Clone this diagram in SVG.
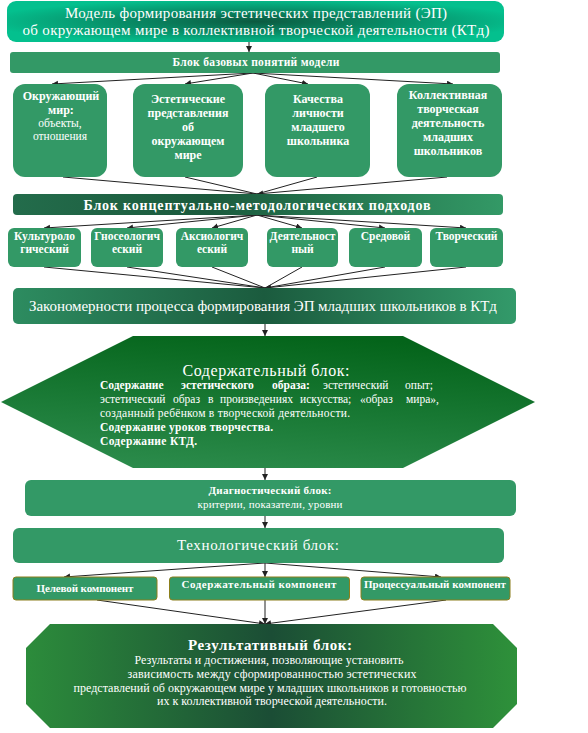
<svg xmlns="http://www.w3.org/2000/svg" width="588" height="733" viewBox="0 0 588 733">
<style>
.t{font-family:"Liberation Serif","DejaVu Serif","Times New Roman",serif;fill:#fff}
.b{font-weight:bold}
.box{fill:#339966}
.cmp{fill:#339966;stroke:#8c7f1c;stroke-width:1}
.con{stroke:#222;stroke-width:1;fill:none}
</style>
<defs>
<marker id="ah" markerUnits="userSpaceOnUse" markerWidth="7" markerHeight="7" refX="6" refY="3" orient="auto"><path d="M0,0 L6,3 L0,6 z" fill="#222"/></marker>
<radialGradient id="gTitle" cx="50%" cy="50%" r="55%"><stop offset="0" stop-color="#0c5a40"/><stop offset="1" stop-color="#04c08e"/></radialGradient>
<linearGradient id="gConc" x1="0" y1="0" x2="1" y2="0"><stop offset="0" stop-color="#236c4b"/><stop offset="0.4" stop-color="#1b5a3d"/><stop offset="1" stop-color="#339966"/></linearGradient>
<linearGradient id="gZak" x1="0" y1="0" x2="1" y2="0"><stop offset="0" stop-color="#2d8c60"/><stop offset="0.5" stop-color="#1b5b3e"/><stop offset="1" stop-color="#339a6a"/></linearGradient>
<linearGradient id="gDia" x1="0.6" y1="0" x2="0.3" y2="1"><stop offset="0" stop-color="#04641a"/><stop offset="1" stop-color="#2b8b4b"/></linearGradient>
<linearGradient id="gRes" x1="0" y1="0" x2="1" y2="0"><stop offset="0" stop-color="#2c8c3b"/><stop offset="0.5" stop-color="#1b4d35"/><stop offset="1" stop-color="#2e913a"/></linearGradient>
</defs>

<g id="connectors">
<line class="con" x1="249" y1="42" x2="249" y2="52" marker-end="url(#ah)"/>
<line class="con" x1="253" y1="73" x2="52" y2="84" marker-end="url(#ah)"/>
<line class="con" x1="253" y1="73" x2="185" y2="84" marker-end="url(#ah)"/>
<line class="con" x1="253" y1="73" x2="308" y2="84" marker-end="url(#ah)"/>
<line class="con" x1="253" y1="73" x2="453" y2="84" marker-end="url(#ah)"/>
<line class="con" x1="63" y1="177" x2="257" y2="194"/>
<line class="con" x1="185" y1="177" x2="257" y2="194"/>
<line class="con" x1="317" y1="177" x2="257" y2="194"/>
<line class="con" x1="447" y1="177" x2="257" y2="194" marker-end="url(#ah)"/>
<line class="con" x1="257" y1="215" x2="44" y2="228" marker-end="url(#ah)"/>
<line class="con" x1="257" y1="215" x2="127" y2="228" marker-end="url(#ah)"/>
<line class="con" x1="257" y1="215" x2="212" y2="228" marker-end="url(#ah)"/>
<line class="con" x1="257" y1="215" x2="302" y2="228" marker-end="url(#ah)"/>
<line class="con" x1="257" y1="215" x2="385" y2="228" marker-end="url(#ah)"/>
<line class="con" x1="257" y1="215" x2="466" y2="228" marker-end="url(#ah)"/>
<line class="con" x1="44" y1="267" x2="265" y2="288"/>
<line class="con" x1="127" y1="267" x2="265" y2="288"/>
<line class="con" x1="212" y1="267" x2="265" y2="288"/>
<line class="con" x1="302" y1="267" x2="265" y2="288"/>
<line class="con" x1="385" y1="267" x2="265" y2="288"/>
<line class="con" x1="466" y1="267" x2="265" y2="288" marker-end="url(#ah)"/>
<line class="con" x1="265" y1="324" x2="265" y2="336" marker-end="url(#ah)"/>
<line class="con" x1="265" y1="468" x2="265" y2="480" marker-end="url(#ah)"/>
<line class="con" x1="265" y1="516" x2="265" y2="528" marker-end="url(#ah)"/>
<line class="con" x1="265" y1="563" x2="64" y2="577" marker-end="url(#ah)"/>
<line class="con" x1="265" y1="563" x2="265" y2="577" marker-end="url(#ah)"/>
<line class="con" x1="265" y1="563" x2="441" y2="577" marker-end="url(#ah)"/>
<line class="con" x1="97" y1="600" x2="265" y2="624" marker-end="url(#ah)"/>
<line class="con" x1="265" y1="600" x2="265" y2="624" marker-end="url(#ah)"/>
<line class="con" x1="446" y1="600" x2="265" y2="624" marker-end="url(#ah)"/>
</g>

<g id="title">
<rect x="7" y="1" width="497" height="41" rx="9" fill="url(#gTitle)"/>
<text class="t" x="256" y="18" font-size="15" text-anchor="middle" textLength="382">Модель формирования эстетических представлений (ЭП)</text>
<text class="t" x="256" y="35" font-size="15" text-anchor="middle" textLength="467">об окружающем мире в коллективной творческой деятельности (КТд)</text>
</g>

<g id="basic-block">
<rect class="box" x="10" y="52" width="490" height="21" rx="3"/>
<text class="t b" x="256" y="66" font-size="11.5" text-anchor="middle" textLength="167">Блок базовых понятий модели</text>
</g>

<g id="basic-1">
<rect class="box" x="13" y="84" width="94" height="93" rx="12"/>
<text class="t b" font-size="12" text-anchor="middle"><tspan x="61" y="100">Окружающий</tspan><tspan x="61" y="114">мир:</tspan></text>
<text class="t" font-size="11.5" text-anchor="middle"><tspan x="60" y="127">объекты,</tspan><tspan x="60" y="140">отношения</tspan></text>
</g>
<g id="basic-2">
<rect class="box" x="133" y="84" width="110" height="93" rx="12"/>
<text class="t b" font-size="12" text-anchor="middle"><tspan x="188" y="103">Эстетические</tspan><tspan x="188" y="117">представления</tspan><tspan x="188" y="131">об</tspan><tspan x="188" y="145">окружающем</tspan><tspan x="188" y="159">мире</tspan></text>
</g>
<g id="basic-3">
<rect class="box" x="265" y="84" width="105" height="93" rx="12"/>
<text class="t b" font-size="12" text-anchor="middle"><tspan x="318" y="103">Качества</tspan><tspan x="318" y="117">личности</tspan><tspan x="318" y="131">младшего</tspan><tspan x="318" y="145">школьника</tspan></text>
</g>
<g id="basic-4">
<rect class="box" x="397" y="84" width="105" height="93" rx="12"/>
<text class="t b" font-size="12" text-anchor="middle"><tspan x="448" y="99">Коллективная</tspan><tspan x="448" y="113">творческая</tspan><tspan x="448" y="127">деятельность</tspan><tspan x="448" y="141">младших</tspan><tspan x="448" y="155">школьников</tspan></text>
</g>

<g id="concept-block">
<rect x="13" y="194" width="490" height="21" rx="4" fill="url(#gConc)"/>
<text class="t b" x="257" y="210" font-size="14" text-anchor="middle" textLength="347">Блок концептуально-методологических подходов</text>
</g>

<g id="appr-1"><rect class="box" x="8" y="228" width="73" height="39" rx="6"/>
<text class="t b" font-size="11.5" text-anchor="middle"><tspan x="44.5" y="240">Культуроло</tspan><tspan x="44.5" y="253">гический</tspan></text></g>
<g id="appr-2"><rect class="box" x="91" y="228" width="72" height="39" rx="6"/>
<text class="t b" font-size="11.5" text-anchor="middle"><tspan x="127" y="240">Гносеологич</tspan><tspan x="127" y="253">еский</tspan></text></g>
<g id="appr-3"><rect class="box" x="176" y="228" width="72" height="39" rx="6"/>
<text class="t b" font-size="11.5" text-anchor="middle"><tspan x="212" y="240">Аксиологич</tspan><tspan x="212" y="253">еский</tspan></text></g>
<g id="appr-4"><rect class="box" x="267" y="228" width="71" height="39" rx="6"/>
<text class="t b" font-size="11.5" text-anchor="middle"><tspan x="302.5" y="240">Деятельност</tspan><tspan x="302.5" y="253">ный</tspan></text></g>
<g id="appr-5"><rect class="box" x="349" y="228" width="73" height="39" rx="6"/>
<text class="t b" font-size="11.5" text-anchor="middle" x="385.5" y="240">Средовой</text></g>
<g id="appr-6"><rect class="box" x="430" y="228" width="73" height="39" rx="6"/>
<text class="t b" font-size="11.5" text-anchor="middle" x="466.5" y="240">Творческий</text></g>

<g id="laws">
<rect x="13" y="288" width="503" height="36" rx="5" fill="url(#gZak)"/>
<text class="t" x="263" y="311" font-size="15" text-anchor="middle" textLength="468">Закономерности процесса формирования ЭП младших школьников в КТд</text>
</g>

<g id="content-block">
<polygon points="133,336 403,336 535,402 403,468 133,468 1,402" fill="url(#gDia)"/>
<text class="t" x="266" y="376" font-size="16" text-anchor="middle" textLength="167">Содержательный блок:</text>
<text class="t" font-size="11.5" y="389"><tspan class="b" x="100">Содержание</tspan><tspan class="b" x="181">эстетического</tspan><tspan class="b" x="272">образа:</tspan><tspan x="323">эстетический</tspan><tspan x="405">опыт;</tspan></text>
<text class="t" font-size="11.5" y="403"><tspan x="100">эстетический</tspan><tspan x="173">образ</tspan><tspan x="208">в</tspan><tspan x="220">произведениях</tspan><tspan x="300">искусства;</tspan><tspan x="360">«образ</tspan><tspan x="406">мира»,</tspan></text>
<text class="t" font-size="11.5" x="100" y="417" textLength="250">созданный ребёнком в творческой деятельности.</text>
<text class="t b" font-size="11.5" x="100" y="431" textLength="173">Содержание уроков творчества.</text>
<text class="t b" font-size="11.5" x="100" y="445" textLength="97">Содержание КТД.</text>
</g>

<g id="diagnostic-block">
<rect class="box" x="25" y="480" width="491" height="36" rx="6"/>
<text class="t b" x="270" y="494" font-size="11" text-anchor="middle" textLength="123">Диагностический блок:</text>
<text class="t" x="270" y="508" font-size="11" text-anchor="middle" textLength="145">критерии, показатели, уровни</text>
</g>

<g id="tech-block">
<rect class="box" x="13" y="528" width="491" height="35" rx="6"/>
<text class="t" x="258" y="550" font-size="15" text-anchor="middle" textLength="162">Технологический блок:</text>
</g>

<g id="comp-1"><rect class="cmp" x="13" y="577" width="144" height="23" rx="3"/>
<text class="t b" x="85" y="592" font-size="11" text-anchor="middle" textLength="97">Целевой компонент</text></g>
<g id="comp-2"><rect class="cmp" x="169.5" y="577" width="180" height="23" rx="3"/>
<text class="t b" x="259" y="588" font-size="11" text-anchor="middle" textLength="155">Содержательный компонент</text></g>
<g id="comp-3"><rect class="cmp" x="361" y="577" width="149" height="23" rx="3"/>
<text class="t b" x="435" y="588" font-size="11" text-anchor="middle" textLength="142">Процессуальный компонент</text></g>

<g id="result-block">
<polygon points="50,624 493,624 517,648 517,704 493,728 50,728 26,704 26,648" fill="url(#gRes)"/>
<text class="t b" x="270" y="650" font-size="15" text-anchor="middle" textLength="164">Результативный блок:</text>
<text class="t" x="269" y="664" font-size="12" text-anchor="middle" textLength="269">Результаты и достижения, позволяющие установить</text>
<text class="t" x="272" y="678" font-size="12" text-anchor="middle" textLength="289">зависимость между сформированностью эстетических</text>
<text class="t" x="270" y="692" font-size="12" text-anchor="middle" textLength="393">представлений об окружающем мире у младших школьников и готовностью</text>
<text class="t" x="272" y="705" font-size="12" text-anchor="middle" textLength="230">их к коллективной творческой деятельности.</text>
</g>
</svg>
